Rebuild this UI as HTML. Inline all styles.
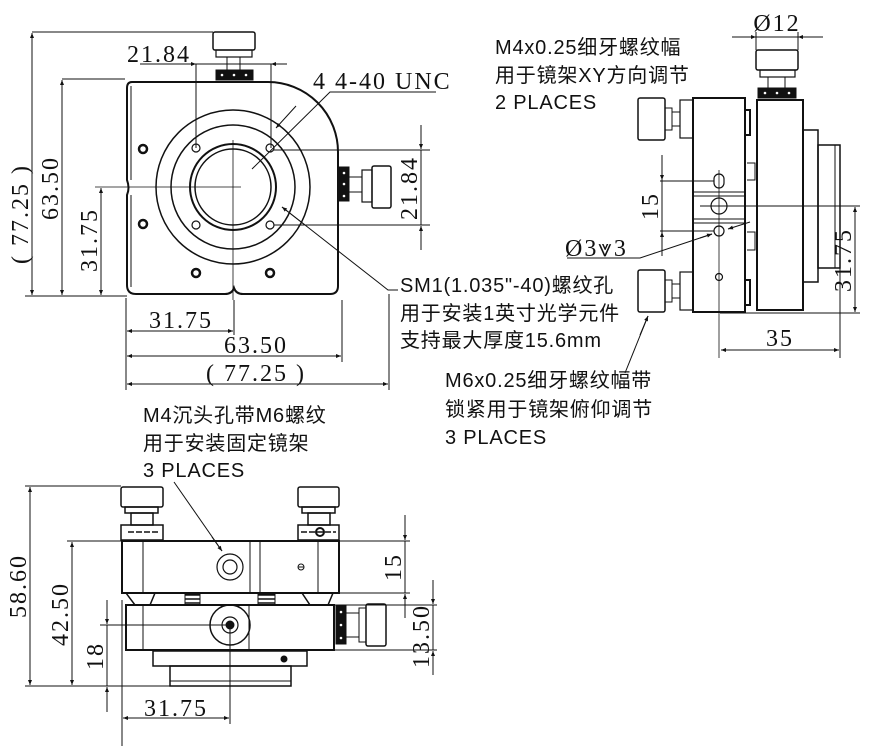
<!DOCTYPE html>
<html><head><meta charset="utf-8"><style>
html,body{margin:0;padding:0;background:#fff;width:885px;height:746px;overflow:hidden}
.d{font-family:"Liberation Serif",serif;font-size:24px;letter-spacing:2px;fill:#111}
.c{font-family:"Liberation Sans","Noto Sans CJK SC",sans-serif;font-size:20px;letter-spacing:0.8px;fill:#111}
</style></head><body>
<svg width="885" height="746" viewBox="0 0 885 746" xmlns="http://www.w3.org/2000/svg">
<defs>
<marker id="a" viewBox="0 0 10 10" refX="10" refY="5" markerWidth="12" markerHeight="5" orient="auto-start-reverse" markerUnits="userSpaceOnUse"><path d="M0,1 L10,5 L0,9z" fill="#111"/></marker>
</defs>
<g fill="none" stroke="#111" stroke-width="1">
<g stroke-width="2">
<path d="M132,82 L268,82 A70,70 0 0 1 338,152 L338,286 Q338,294 330,294 L243,294 Q236,294 234,288 Q232,294 225,294 L136,294 Q127,294 127,285 L127,195 Q130,188 127,180 L127,88 Q127,82 132,82z"/>
</g>
<path d="M131,86 L131,180 M131,195 L131,287"/>
<circle cx="233" cy="187" r="77" stroke-width="1.5"/>
<circle cx="233" cy="187" r="62" stroke-width="1.5"/>
<circle cx="233" cy="187" r="43" stroke-width="2"/>
<circle cx="233" cy="187" r="38" stroke-width="1.5"/>
<g stroke-width="1.2">
<circle cx="196" cy="148" r="4"/><circle cx="270" cy="148" r="4"/><circle cx="196" cy="225" r="4"/><circle cx="270" cy="225" r="4"/>
</g>
<g stroke-width="2.5">
<circle cx="143" cy="149" r="4"/><circle cx="143" cy="224" r="4"/><circle cx="196" cy="273" r="4"/><circle cx="270" cy="273" r="4"/>
</g>
<path d="M233,140 L233,300 M225,187 L241,187 M95,187 L233,187" stroke-width="0.8"/>
<rect x="213" y="32" width="42" height="18" rx="2" stroke-width="1.5"/>
<rect x="216" y="50" width="36" height="7" stroke-width="1.2"/>
<path d="M227,57 L227,70 M240,57 L240,70"/>
<rect x="216" y="70" width="37" height="10" fill="#111"/>
<g fill="#fff" stroke="none"><circle cx="222" cy="75" r="1.3"/><circle cx="234" cy="75" r="1.3"/><circle cx="246" cy="75" r="1.3"/></g>
<rect x="339" y="167" width="10" height="34" fill="#111"/>
<g fill="#fff" stroke="none"><circle cx="344" cy="173" r="1.3"/><circle cx="344" cy="184" r="1.3"/><circle cx="344" cy="196" r="1.3"/></g>
<path d="M349,177 L362,177 M349,192 L362,192"/>
<rect x="362" y="170" width="10" height="32" stroke-width="1.2"/>
<rect x="372" y="166" width="19" height="42" rx="2" stroke-width="1.5"/>
<path d="M32,32 L213,32 M62,79 L125,79 M25,296 L127,296"/>
<path d="M32,33 L32,295" marker-start="url(#a)" marker-end="url(#a)"/>
<path d="M62,80 L62,295" marker-start="url(#a)" marker-end="url(#a)"/>
<path d="M101,188 L101,295" marker-start="url(#a)" marker-end="url(#a)"/>
<path d="M196,64 L196,148 M271,64 L271,148"/>
<path d="M140,64 L196,64"/>
<path d="M180,64 L196,64" marker-end="url(#a)"/>
<path d="M287,64 L271,64" marker-end="url(#a)"/>
<path d="M196,64 L271,64"/>
<path d="M126,298 L126,390 M234,300 L234,335 M342,300 L342,362 M389,294 L389,390"/>
<path d="M127,331 L233,331" marker-start="url(#a)" marker-end="url(#a)"/>
<path d="M127,356 L341,356" marker-start="url(#a)" marker-end="url(#a)"/>
<path d="M127,384 L388,384" marker-start="url(#a)" marker-end="url(#a)"/>
<path d="M274,150 L430,150 M274,225 L430,225"/>
<path d="M421,125 L421,149" marker-end="url(#a)"/>
<path d="M421,250 L421,226" marker-end="url(#a)"/>
<path d="M421,150 L421,225"/>
<path d="M436,92 L330,92 L252,169"/>
<path d="M296,106 L276,128" marker-end="url(#a)"/>
<path d="M398,290 L388,290 L282,207"/>
<path d="M305,225 L282,207" marker-end="url(#a)"/>

<rect x="756" y="50" width="42" height="20" rx="2" stroke-width="1.5"/>
<rect x="760" y="70" width="35" height="7" stroke-width="1.2"/>
<path d="M768,77 L768,88 M785,77 L785,88"/>
<rect x="758" y="88" width="38" height="10" fill="#111"/>
<g fill="#fff" stroke="none"><circle cx="765" cy="93" r="1.3"/><circle cx="777" cy="93" r="1.3"/><circle cx="789" cy="93" r="1.3"/></g>
<path d="M732,37 L823,37"/>
<path d="M735,37 L756,37" marker-end="url(#a)"/>
<path d="M820,37 L798,37" marker-end="url(#a)"/>
<path d="M756,32 L756,50 M798,32 L798,50"/>
<rect x="693" y="98" width="52" height="214" stroke-width="2"/>
<path d="M693,192 L745,192 M693,196 L745,196 M693,219 L745,219 M693,223 L745,223"/>
<rect x="757" y="100" width="46" height="210" stroke-width="2"/>
<path d="M745,110 L750,110 L750,135 L745,135 M745,280 L750,280 L750,305 L745,305" stroke-width="2"/>
<path d="M747,163 L755,163 L755,180 L747,180 M747,232 L755,232 L755,250 L747,250"/>
<rect x="803" y="130" width="15" height="152" stroke-width="1.5"/>
<rect x="818" y="145" width="22" height="123" stroke-width="1.5"/>
<path d="M835,145 L835,268"/>
<rect x="638" y="98" width="27" height="42" rx="2" stroke-width="1.5"/>
<path d="M665,108 L672,108 L672,130 L665,130 M672,112 L680,112 M672,126 L680,126"/>
<rect x="680" y="100" width="13" height="38" stroke-width="1.2"/>
<rect x="638" y="270" width="27" height="42" rx="2" stroke-width="1.5"/>
<path d="M665,280 L672,280 L672,302 L665,302 M672,284 L680,284 M672,298 L680,298"/>
<rect x="680" y="272" width="13" height="38" stroke-width="1.2"/>
<rect x="714" y="174" width="10" height="14" rx="5" stroke-width="1.2"/>
<circle cx="719" cy="206" r="8" stroke-width="1.2"/>
<circle cx="719" cy="231" r="5" stroke-width="1.2"/>
<circle cx="719" cy="277" r="3.5" stroke-width="1.2"/>
<path d="M719,170 L719,358" stroke-width="0.8"/>
<path d="M700,206 L860,206 M660,181 L714,181 M660,231 L714,231 M720,313 L860,313 M840,268 L840,358"/>
<path d="M662,155 L662,180" marker-end="url(#a)"/>
<path d="M662,256 L662,232" marker-end="url(#a)"/>
<path d="M662,180 L662,232"/>
<path d="M855,207 L855,312" marker-start="url(#a)" marker-end="url(#a)"/>
<path d="M721,350 L839,350" marker-start="url(#a)" marker-end="url(#a)"/>
<path d="M567,258 L640,258 L712,234"/>
<path d="M700,238 L712,234" marker-end="url(#a)"/>
<path d="M750,222 L728,229" marker-end="url(#a)"/>
<path d="M625,373 L648,316"/>
<path d="M640,335 L648,316" marker-end="url(#a)"/>

<g stroke-width="1.5">
<rect x="121" y="487" width="42" height="20" rx="2"/>
<rect x="125" y="507" width="33" height="6"/>
<rect x="131" y="513" width="22" height="12"/>
<rect x="121" y="525" width="42" height="15"/>
<rect x="298" y="487" width="41" height="20" rx="2"/>
<rect x="302" y="507" width="33" height="6"/>
<rect x="308" y="513" width="22" height="12"/>
<rect x="298" y="525" width="41" height="15"/>
</g>
<path d="M128,532 L160,532 M301,532 L336,532" stroke-width="1.5" stroke-dasharray="6,2"/>
<circle cx="320" cy="532" r="4" stroke-width="2"/>
<rect x="122" y="541" width="217" height="52" stroke-width="2"/>
<path d="M143,541 L143,593 M250,541 L250,593 M260,541 L260,593 M318,541 L318,593"/>
<circle cx="230" cy="567" r="13" stroke-width="1.2"/><circle cx="230" cy="567" r="7" stroke-width="1.2"/>
<circle cx="301" cy="567" r="3" stroke-width="1"/><path d="M298,567 L304,567"/>
<path d="M126,593 L155,593 L150,605 L135,605z M302,593 L333,593 L328,605 L310,605z" stroke-width="1.5"/>
<path d="M185,595 L200,595 M185,599 L200,599 M185,603 L200,603 M258,595 L275,595 M258,599 L275,599 M258,603 L275,603" stroke-width="1.5"/>
<rect x="185" y="594" width="15" height="11"/><rect x="258" y="594" width="17" height="11"/>
<rect x="126" y="605" width="208" height="45" stroke-width="2"/>
<path d="M143,605 L143,650 M249,605 L249,650"/>
<circle cx="230" cy="625" r="20" stroke-width="1.5"/><circle cx="230" cy="625" r="8" stroke-width="1.2"/>
<circle cx="230" cy="625" r="4" fill="#111"/>
<rect x="153" y="651" width="154" height="15" stroke-width="1.5"/>
<circle cx="284" cy="659" r="3" fill="#111"/>
<rect x="170" y="666" width="121" height="20" stroke-width="1.5"/>
<path d="M170,681 L291,681"/>
<rect x="336" y="606" width="10" height="38" fill="#111"/>
<g fill="#fff" stroke="none"><circle cx="341" cy="612" r="1.3"/><circle cx="341" cy="625" r="1.3"/><circle cx="341" cy="638" r="1.3"/></g>
<path d="M346,613 L359,613 M346,637 L359,637"/>
<rect x="359" y="608" width="7" height="34"/>
<rect x="366" y="604" width="20" height="42" rx="2" stroke-width="1.5"/>
<path d="M25,486 L121,486 M67,541 L122,541 M25,686 L170,686 M100,625 L230,625 M122,600 L122,762 M230,625 L230,724"/>
<path d="M30,487 L30,685" marker-start="url(#a)" marker-end="url(#a)"/>
<path d="M72,542 L72,685" marker-start="url(#a)" marker-end="url(#a)"/>
<path d="M107,600 L107,624" marker-end="url(#a)"/>
<path d="M107,712 L107,687" marker-end="url(#a)"/>
<path d="M107,625 L107,686"/>
<path d="M123,718 L229,718" marker-start="url(#a)" marker-end="url(#a)"/>
<path d="M340,541 L410,541 M334,593 L410,593 M334,605 L437,605 M334,650 L437,650"/>
<path d="M405,515 L405,540" marker-end="url(#a)"/>
<path d="M405,618 L405,594" marker-end="url(#a)"/>
<path d="M405,541 L405,593"/>
<path d="M433,580 L433,604" marker-end="url(#a)"/>
<path d="M433,675 L433,651" marker-end="url(#a)"/>
<path d="M433,605 L433,650"/>
<path d="M174,482 L222,551"/>
<path d="M212,537 L222,551" marker-end="url(#a)"/>
</g>

<text class="d" x="127" y="62">21.84</text>
<text class="d" x="313" y="89">4 4-40 UNC</text>
<text class="d" transform="translate(28,214) rotate(-90)" text-anchor="middle">( 77.25 )</text>
<text class="d" transform="translate(58,188) rotate(-90)" text-anchor="middle">63.50</text>
<text class="d" transform="translate(97,240) rotate(-90)" text-anchor="middle">31.75</text>
<text class="d" transform="translate(417,188) rotate(-90)" text-anchor="middle">21.84</text>
<text class="d" x="181" y="328" text-anchor="middle">31.75</text>
<text class="d" x="256" y="353" text-anchor="middle">63.50</text>
<text class="d" x="256" y="381" text-anchor="middle">( 77.25 )</text>
<text class="d" x="777" y="31" text-anchor="middle">Ø12</text>
<text class="d" transform="translate(658,206) rotate(-90)" text-anchor="middle">15</text>
<text class="d" x="565" y="256">Ø3⩔3</text>
<text class="d" transform="translate(851,260) rotate(-90)" text-anchor="middle">31.75</text>
<text class="d" x="780" y="346" text-anchor="middle">35</text>
<text class="d" transform="translate(26,586) rotate(-90)" text-anchor="middle">58.60</text>
<text class="d" transform="translate(68,614) rotate(-90)" text-anchor="middle">42.50</text>
<text class="d" transform="translate(103,656) rotate(-90)" text-anchor="middle">18</text>
<text class="d" x="176" y="716" text-anchor="middle">31.75</text>
<text class="d" transform="translate(401,567) rotate(-90)" text-anchor="middle">15</text>
<text class="d" transform="translate(429,636) rotate(-90)" text-anchor="middle">13.50</text>

<text class="c" x="495" y="54">M4x0.25细牙螺纹幅</text>
<text class="c" x="495" y="82">用于镜架XY方向调节</text>
<text class="c" x="495" y="109">2 PLACES</text>
<text class="c" x="400" y="292">SM1(1.035"-40)螺纹孔</text>
<text class="c" x="400" y="320">用于安装1英寸光学元件</text>
<text class="c" x="400" y="347">支持最大厚度15.6mm</text>
<text class="c" x="445" y="387">M6x0.25细牙螺纹幅带</text>
<text class="c" x="445" y="416">锁紧用于镜架俯仰调节</text>
<text class="c" x="445" y="444">3 PLACES</text>
<text class="c" x="143" y="422">M4沉头孔带M6螺纹</text>
<text class="c" x="143" y="450">用于安装固定镜架</text>
<text class="c" x="143" y="477">3 PLACES</text>
</svg>
</body></html>
